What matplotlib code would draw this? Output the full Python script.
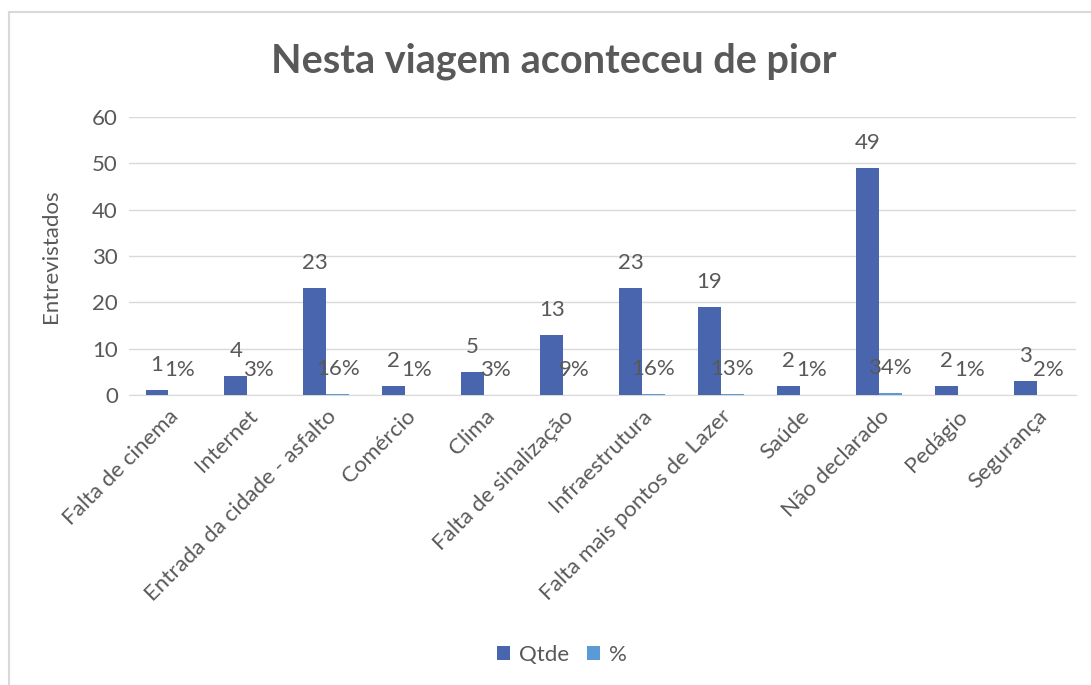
'''
Bar chart of the worst things that happened on the trip
'''
import matplotlib
matplotlib.use('Agg')
import matplotlib.pyplot as plt
import numpy as np

categories = ['Falta de cinema', 'Internet', 'Entrada da cidade - asfalto', 'Comércio',
              'Clima', 'Falta de sinalização', 'Infraestrutura', 'Falta mais pontos de Lazer',
              'Saúde', 'Não declarado', 'Pedágio', 'Segurança']
qtde = [1, 4, 23, 2, 5, 13, 23, 19, 2, 49, 2, 3]
percent = [0.01, 0.03, 0.16, 0.01, 0.03, 0.09, 0.16, 0.13, 0.01, 0.34, 0.01, 0.02]

plt.rcParams['font.family'] = ['Lato', 'DejaVu Sans']
text_color = '#595959'

fig = plt.figure(figsize=(10.91, 6.85), dpi=100)
ax = fig.add_axes([0.1182, 0.4234, 0.8681, 0.4058])

x = np.arange(len(categories))
width = 0.29
bars_q = ax.bar(x - width / 2, qtde, width, color='#4865AD', label='Qtde', zorder=3)
bars_p = ax.bar(x + width / 2, percent, width, color='#5B9BD5', label='%', zorder=3)

# Value labels above each bar
for rect, val in zip(bars_q, qtde):
    ax.annotate(str(val), (rect.get_x() + rect.get_width() / 2, rect.get_height()),
                xytext=(0, 18), textcoords='offset points', ha='center', va='center',
                fontsize=16, color=text_color)
for rect, val in zip(bars_p, percent):
    ax.annotate(f'{val:.0%}', (rect.get_x() + rect.get_width() / 2, rect.get_height()),
                xytext=(0, 18), textcoords='offset points', ha='center', va='center',
                fontsize=16, color=text_color)

ax.set_xlim(-0.5, len(categories) - 0.5)
ax.set_ylim(0, 60)
ax.set_yticks(range(0, 61, 10))
ax.yaxis.grid(True, color='#D9D9D9', linewidth=1, zorder=0)
for side in ['top', 'right', 'left']:
    ax.spines[side].set_visible(False)
ax.spines['bottom'].set_color('#D9D9D9')
ax.tick_params(axis='both', length=0, labelsize=16, labelcolor=text_color, pad=8)
ax.set_xticks(x)
ax.set_xticklabels(categories, rotation=45, ha='right', rotation_mode='anchor')
ax.set_ylabel('Entrevistados', fontsize=16, color=text_color, labelpad=22)

fig.text(0.508, 0.91, 'Nesta viagem aconteceu de pior', ha='center', va='center',
         fontsize=28.5, fontweight='bold', color=text_color)

fig.legend(loc='center', bbox_to_anchor=(0.515, 0.044), ncol=2, frameon=False,
           fontsize=16, labelcolor=text_color, handlelength=0.6, handleheight=0.6,
           columnspacing=0.8, handletextpad=0.4)

# Chart area border
fig.add_artist(plt.Line2D([0.0085, 0.0085], [0, 0.9825], color='#D9D9D9', linewidth=1.5))
fig.add_artist(plt.Line2D([0.0085, 1], [0.9825, 0.9825], color='#D9D9D9', linewidth=1.5))

plt.savefig('out.png', dpi=100)
